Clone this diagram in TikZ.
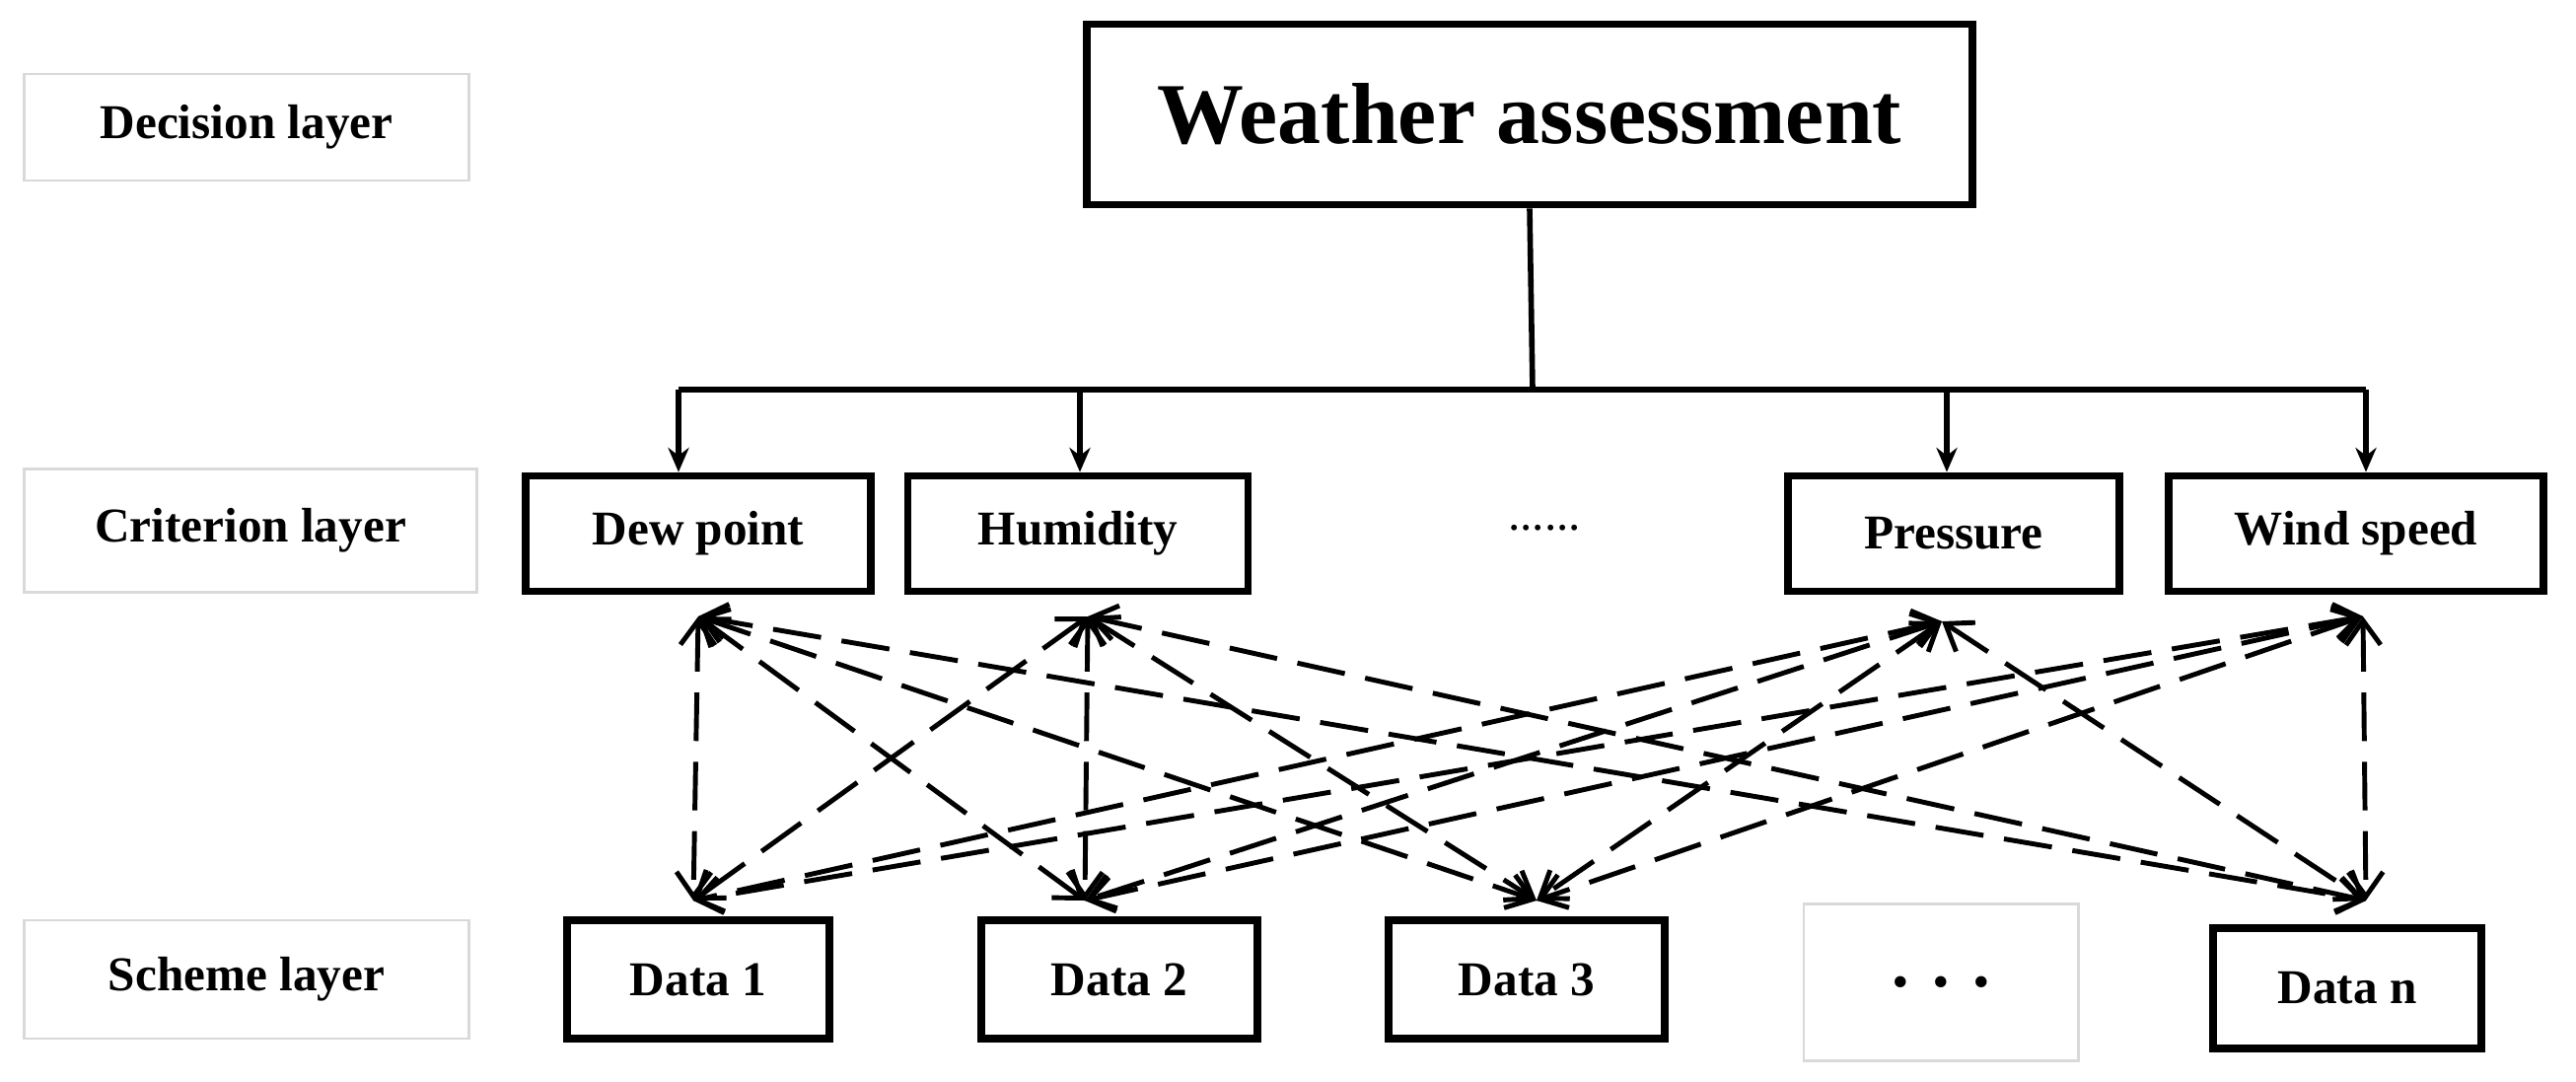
\documentclass[tikz,border=0pt]{standalone}
\usepackage{fontspec}
\setmainfont{Liberation Serif}
\usetikzlibrary{arrows.meta}
\begin{document}
\begin{tikzpicture}[x=0.01cm,y=-0.01cm,
 box/.style={draw,line width=2.2pt,inner sep=0pt,font=\fontsize{14}{16}\selectfont\bfseries},
 lab/.style={draw=black!15,line width=0.8pt,inner sep=0pt,font=\fontsize{14}{16}\selectfont\bfseries},
 tree/.style={line width=1.6pt,-{Stealth[length=7pt,width=6pt]}},
 dsh/.style={line width=1.4pt,dash pattern=on 14pt off 6pt,{Straight Barb[length=7pt,width=10pt]}-{Straight Barb[length=7pt,width=10pt]}}]
\useasboundingbox (0,0) rectangle (2612,1096);
\node[lab,minimum width=4.50cm,minimum height=1.08cm] (dl) at (250,129) {Decision layer};
\node[lab,minimum width=4.58cm,minimum height=1.25cm] (cl) at (254,538) {Criterion layer};
\node[lab,minimum width=4.50cm,minimum height=1.20cm] (sl) at (250,993) {Scheme layer};
\node[box,minimum width=8.97cm,minimum height=1.83cm,font=\fontsize{25}{28}\selectfont\bfseries] (w) at (1551,116) {Weather assessment};
\node[box,minimum width=3.50cm,minimum height=1.17cm] (dp) at (708,541) {Dew point};
\node[box,minimum width=3.45cm,minimum height=1.17cm] (hu) at (1093,541) {Humidity};
\node[font=\fontsize{14}{16}\selectfont] (dots) at (1566,535) {......};
\node[box,minimum width=3.36cm,minimum height=1.17cm] (pr) at (1981,541) {Pressure};
\node[box,minimum width=3.80cm,minimum height=1.17cm] (ws) at (2389,541) {Wind speed};
\node[box,minimum width=2.66cm,minimum height=1.20cm] (d1) at (708,993) {Data 1};
\node[box,minimum width=2.80cm,minimum height=1.20cm] (d2) at (1135,993) {Data 2};
\node[box,minimum width=2.80cm,minimum height=1.20cm] (d3) at (1548,993) {Data 3};
\node[lab,minimum width=2.78cm,minimum height=1.59cm,font=\fontsize{20}{22}\selectfont\bfseries] (dd) at (1968,996) {. . .};
\node[box,minimum width=2.72cm,minimum height=1.22cm] (dn) at (2380,1002) {Data n};
\coordinate (j) at (1554,395);
\draw[line width=1.6pt] (w.south) -- (j);
\draw[line width=1.6pt] (688,395) -- (2399,395);
\coordinate (a1) at (688,395); \coordinate (a2) at (1095,395);
\coordinate (a3) at (1974,395); \coordinate (a4) at (2399,395);
\draw[tree] (a1) -- (dp.north -| a1);
\draw[tree] (a2) -- (hu.north -| a2);
\draw[tree] (a3) -- (pr.north -| a3);
\draw[tree] (a4) -- (ws.north -| a4);
\coordinate (t1) at (708,625); \coordinate (t2) at (1103,625);
\coordinate (t3) at (1969,630); \coordinate (t4) at (2396,625);
\coordinate (b1) at (703,913); \coordinate (b2) at (1100,913);
\coordinate (b3) at (1558,913); \coordinate (b4) at (2399,913);
\foreach \t in {t1,t2,t3,t4}{\foreach \b in {b1,b2,b3,b4}{\draw[dsh] (\t) -- (\b);}}
\end{tikzpicture}
\end{document}
